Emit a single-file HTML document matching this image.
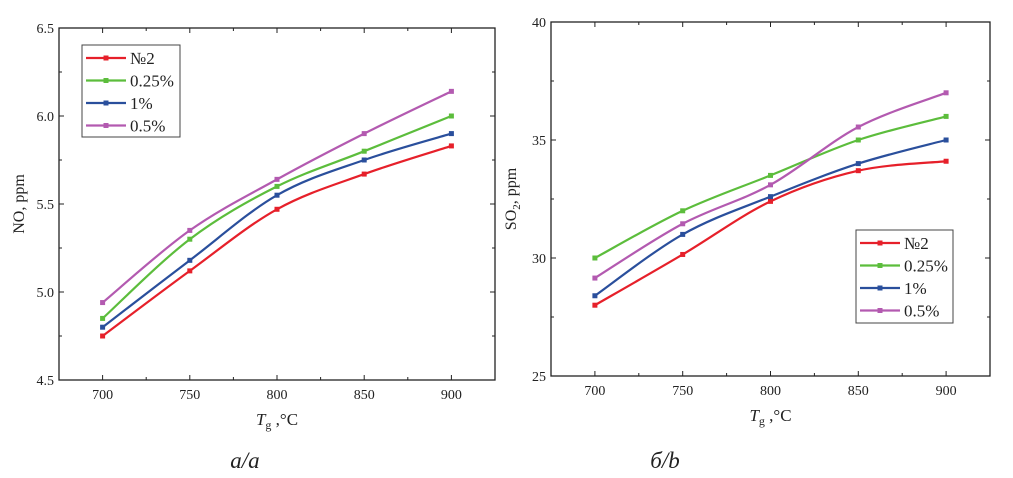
<!DOCTYPE html>
<html><head><meta charset="utf-8"><style>
body{margin:0;background:#fff;width:1013px;height:473px;overflow:hidden}
svg{font-family:"Liberation Serif",serif}
</style></head><body>
<svg id="s" width="1013" height="473"></svg>
<script>
const categories=[700,750,800,850,900];
const seriesNames=["№2","0.25%","1%","0.5%"];
const colors=["#e6202a","#5cbd3c","#2a4f9c","#b35ab0"];
const noRed=[4.75,5.12,5.47,5.67,5.83];
const noGreen=[4.85,5.30,5.60,5.80,6.00];
const noBlue=[4.80,5.18,5.55,5.75,5.90];
const noMagenta=[4.94,5.35,5.64,5.90,6.14];
const so2Red=[28.0,30.15,32.4,33.7,34.1];
const so2Green=[30.0,32.0,33.5,35.0,36.0];
const so2Blue=[28.4,31.0,32.6,34.0,35.0];
const so2Magenta=[29.15,31.45,33.1,35.55,37.0];
const noTicks=[4.5,5.0,5.5,6.0,6.5];
const so2Ticks=[25,30,35,40];
const xTicks=[700,750,800,850,900];
const NS="http://www.w3.org/2000/svg";
const svg=document.getElementById('s');
function mk(t,a,p){const e=document.createElementNS(NS,t);for(const k in a)e.setAttribute(k,a[k]);(p||svg).appendChild(e);return e;}
function spline(pts){let d=`M${pts[0][0]},${pts[0][1]}`;for(let i=0;i<pts.length-1;i++){const p0=pts[i-1]||pts[i],p1=pts[i],p2=pts[i+1],p3=pts[i+2]||p2;
d+=` C${p1[0]+(p2[0]-p0[0])/6},${p1[1]+(p2[1]-p0[1])/6} ${p2[0]-(p3[0]-p1[0])/6},${p2[1]-(p3[1]-p1[1])/6} ${p2[0]},${p2[1]}`;}return d;}
function chart(c){
 const g=mk('g',{});
 const X=v=>c.x0+(v-675)/250*(c.x1-c.x0);
 const Y=v=>c.y1-(v-c.ymin)/(c.ymax-c.ymin)*(c.y1-c.y0);
 const f=mk('rect',{x:c.x0,y:c.y0,width:c.x1-c.x0,height:c.y1-c.y0,fill:'none',stroke:'#222','stroke-width':1.3},g);
 
 for(let v=700;v<=900;v+=25){const maj=v%50==0,l=maj?5:3;
  mk('line',{x1:X(v),x2:X(v),y1:c.y1,y2:c.y1-l,stroke:'#222'},g);
  mk('line',{x1:X(v),x2:X(v),y1:c.y0,y2:c.y0+l,stroke:'#222'},g);}
 xTicks.forEach(v=>{const t=mk('text',{x:X(v),y:c.y1+19,'font-size':14,'text-anchor':'middle',fill:'#222'},g);t.textContent=v;
  });
 const st=(c.ticks[1]-c.ticks[0])/2;
 for(let v=c.ymin;v<=c.ymax+1e-9;v+=st){const maj=Math.abs((v-c.ymin)/st%2)<1e-6,l=maj?5:3;
  mk('line',{x1:c.x0,x2:c.x0+l,y1:Y(v),y2:Y(v),stroke:'#222'},g);
  mk('line',{x1:c.x1,x2:c.x1-l,y1:Y(v),y2:Y(v),stroke:'#222'},g);}
 c.ticks.forEach(v=>{const t=mk('text',{x:c.x0-5,y:Y(v)+5,'font-size':14,'text-anchor':'end',fill:'#222'},g);t.textContent=c.fmt(v);
  });
 c.series.forEach((s,i)=>{const pts=s.map((v,j)=>[X(categories[j]),Y(v)]);
  const p=mk('path',{d:spline(pts),fill:'none',stroke:colors[i],'stroke-width':2.2},g);
  
  pts.forEach(q=>{const r=mk('rect',{x:q[0]-2.5,y:q[1]-2.5,width:5,height:5,fill:colors[i]},g);
   });});
 const L=c.leg;const lg=mk('g',{},g);
 mk('rect',{x:L.x,y:L.y,width:L.w,height:L.h,fill:'#fff',stroke:'#444'},lg);
 seriesNames.forEach((n,i)=>{const yy=L.y+13+i*22.5;
  mk('line',{x1:L.x+4,x2:L.x+44,y1:yy,y2:yy,stroke:colors[i],'stroke-width':2.2},lg);
  mk('rect',{x:L.x+21.5,y:yy-2.5,width:5,height:5,fill:colors[i]},lg);
  const t=mk('text',{x:L.x+48,y:yy+6,'font-size':17,fill:'#222'},lg);t.textContent=n;
  });
 const yt=mk('text',{transform:`translate(${c.ytx},${(c.y0+c.y1)/2}) rotate(-90)`,'font-size':16,'text-anchor':'middle',fill:'#222'},g);
 yt.innerHTML=c.ytitle;
 const xt=mk('text',{x:(c.x0+c.x1)/2,y:c.y1+45,'font-size':17,'text-anchor':'middle',fill:'#222'},g);
 xt.innerHTML='<tspan font-style="italic">T</tspan><tspan font-size="12" dy="4">g</tspan><tspan dy="-4"> ,°C</tspan>';
 
 const cp=mk('text',{x:c.capx,y:468,'font-size':23,'font-style':'italic','text-anchor':'middle',fill:'#222'},g);
 cp.textContent=c.cap;
}
chart({name:'no-chart',x0:59,x1:495,y0:28,y1:380,ymin:4.5,ymax:6.5,ticks:noTicks,fmt:v=>v.toFixed(1),
 series:[noRed,noGreen,noBlue,noMagenta],leg:{x:82,y:45,w:98,h:92},ytx:24,ytitle:'NO, ppm',cap:'a/a',capx:245});
chart({name:'so2-chart',x0:551,x1:990,y0:22,y1:376,ymin:25,ymax:40,ticks:so2Ticks,fmt:v=>v,
 series:[so2Red,so2Green,so2Blue,so2Magenta],leg:{x:856,y:230,w:97,h:93},ytx:516,
 ytitle:'SO<tspan font-size="11" dy="4">2</tspan><tspan dy="-4">, ppm</tspan>',cap:'б/b',capx:665});
</script>
</body></html>
